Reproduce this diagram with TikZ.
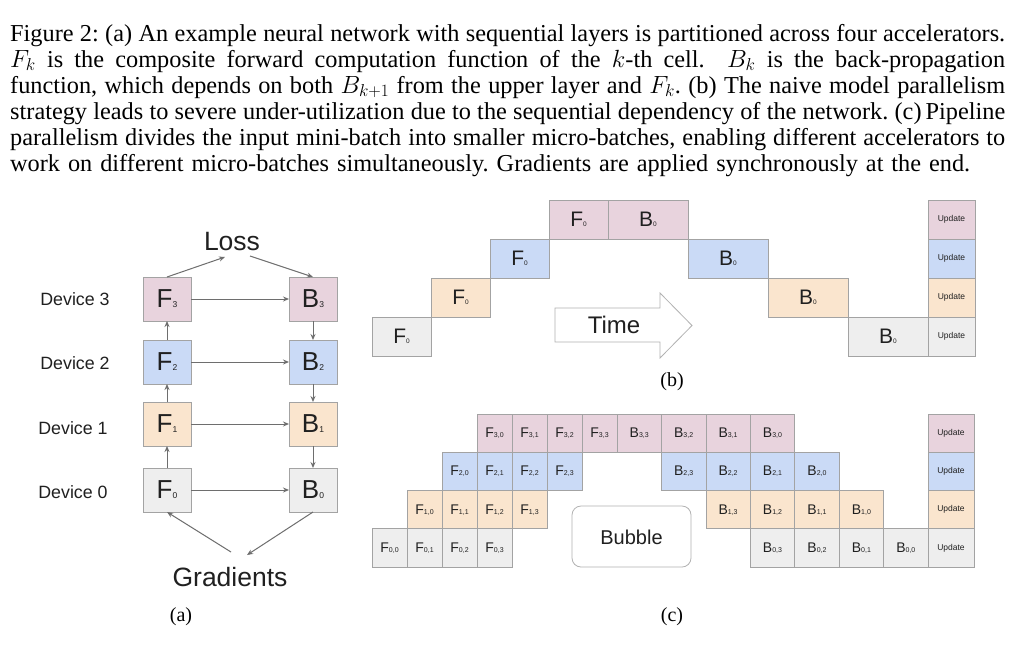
\documentclass[tikz,border=0pt]{standalone}
\usepackage{fontspec}
\setmainfont{Liberation Serif}
\setsansfont{Liberation Sans}
\usetikzlibrary{arrows.meta}
\definecolor{cM}{HTML}{E8D3DD}
\definecolor{cB}{HTML}{CADAF6}
\definecolor{cO}{HTML}{FAE5CE}
\definecolor{cG}{HTML}{EEEEEE}
\definecolor{bord}{HTML}{A3A3A3}
\definecolor{arrg}{HTML}{6E6E6E}
\definecolor{txt}{HTML}{202020}
\newcommand{\labA}[2]{{\fontsize{26}{26}\selectfont #1}{\fontsize{8.5}{8.5}\selectfont #2}}
\newcommand{\labB}[2]{{\fontsize{21}{21}\selectfont #1}{\fontsize{6.5}{6.5}\selectfont #2}}
\newcommand{\labC}[2]{{\fontsize{14}{14}\selectfont #1}{\fontsize{7}{7}\selectfont #2}}
\frenchspacing
\begin{document}
\begin{tikzpicture}[x=1pt,y=-1pt,
  capline/.style={anchor=base west, inner sep=0pt, font=\fontsize{24.3}{24.3}\selectfont},
  abox/.style={draw=bord, line width=0.8pt, minimum width=48pt, minimum height=44pt, inner sep=0pt, outer sep=0pt, text=txt, font=\sffamily},
  cell/.style={draw=bord, line width=0.7pt, inner sep=0pt, outer sep=0pt, anchor=north west, text=txt, font=\sffamily},
  dev/.style={font=\sffamily\fontsize{17.8}{17.8}\selectfont, text=txt},
  big/.style={font=\sffamily\fontsize{26.5}{26.5}\selectfont, text=txt, inner sep=0pt},
  conn/.style={draw=arrg, line width=1pt, -{Stealth[length=6pt,width=5pt]}},
  upd/.style={font=\sffamily\fontsize{8.5}{8.5}\selectfont}]
\useasboundingbox (0,0) rectangle (1016,646);
\fill[white] (0,0) rectangle (1016,646);
% caption
\node[capline] (cap1) at (10,41) {\makebox[995pt][s]{Figure 2: (a) An example neural network with sequential layers is partitioned across four accelerators.}};
\node[capline] (cap2) at (10,67) {\makebox[995pt][s]{$F_k$ is the composite forward computation function of the $k$-th cell. \ $B_k$ is the back-propagation}};
\node[capline] (cap3) at (10,93) {\makebox[995pt][s]{function, which depends on both $B_{k+1}$ from the upper layer and $F_k$. (b) The naive model parallelism}};
\node[capline] (cap4) at (10,119) {\makebox[995pt][s]{strategy leads to severe under-utilization due to the sequential dependency of the network. (c)\,Pipeline}};
\node[capline] (cap5) at (10,145) {\makebox[995pt][s]{parallelism divides the input mini-batch into smaller micro-batches, enabling different accelerators to}};
\node[capline] (cap6) at (10,171) {\makebox[960pt][s]{work on different micro-batches simultaneously. Gradients are applied synchronously at the end.}};
% ---------- (a)
\node[abox, fill=cM] (F3) at (167,299) {\labA{F}{3}};
\node[abox, fill=cM] (B3) at (313,299) {\labA{B}{3}};
\node[abox, fill=cB] (F2) at (167,362) {\labA{F}{2}};
\node[abox, fill=cB] (B2) at (313,362) {\labA{B}{2}};
\node[abox, fill=cO] (F1) at (167,424) {\labA{F}{1}};
\node[abox, fill=cO] (B1) at (313,424) {\labA{B}{1}};
\node[abox, fill=cG] (F0) at (167,490) {\labA{F}{0}};
\node[abox, fill=cG] (B0) at (313,490) {\labA{B}{0}};
\node[dev] (d3) at (75,299) {Device 3};
\node[dev] (d2) at (75,363) {Device 2};
\node[dev] (d1) at (73,428) {Device 1};
\node[dev] (d0) at (73,492) {Device 0};
\node[big] (loss) at (232,242) {Loss};
\node[big] (grad) at (230,577) {Gradients};
\node[font=\fontsize{20}{20}\selectfont] (la) at (181,617) {(a)};
\coordinate (lossL) at (225,257);
\coordinate (lossR) at (250,256);
\coordinate (gradL) at (231,552);
\coordinate (gradR) at (247,555);
\draw[conn] (F3.north) -- (lossL);
\draw[conn] (lossR) -- (B3.north);
\foreach \a/\b in {0/1,1/2,2/3} \draw[conn] (F\a) -- (F\b);
\foreach \a/\b in {3/2,2/1,1/0} \draw[conn] (B\a) -- (B\b);
\foreach \a in {0,1,2,3} \draw[conn] (F\a) -- (B\a);
\draw[conn] (B0.south) -- (gradR);
\draw[conn] (gradL) -- (F0.south);
% ---------- (b)
\node[cell, fill=cG, minimum width=59pt, minimum height=39pt] (bF0) at (372,317) {\labB{F}{0}};
\node[cell, fill=cO, minimum width=59pt, minimum height=39pt] (bF1) at (431,278) {\labB{F}{0}};
\node[cell, fill=cB, minimum width=59pt, minimum height=39pt] (bF2) at (490,239) {\labB{F}{0}};
\node[cell, fill=cM, minimum width=59pt, minimum height=39pt] (bF3) at (549,200) {\labB{F}{0}};
\node[cell, fill=cM, minimum width=80pt, minimum height=39pt] (bB3) at (608,200) {\labB{B}{0}};
\node[cell, fill=cB, minimum width=80pt, minimum height=39pt] (bB2) at (688,239) {\labB{B}{0}};
\node[cell, fill=cO, minimum width=80pt, minimum height=39pt] (bB1) at (768,278) {\labB{B}{0}};
\node[cell, fill=cG, minimum width=80pt, minimum height=39pt] (bB0) at (848,317) {\labB{B}{0}};
\node[cell, upd, fill=cM, minimum width=47pt, minimum height=39pt] (bU3) at (928,200) {Update};
\node[cell, upd, fill=cB, minimum width=47pt, minimum height=39pt] (bU2) at (928,239) {Update};
\node[cell, upd, fill=cO, minimum width=47pt, minimum height=39pt] (bU1) at (928,278) {Update};
\node[cell, upd, fill=cG, minimum width=47pt, minimum height=39pt] (bU0) at (928,317) {Update};
\draw[draw=black!30, fill=white, line width=0.8pt] (555,308) -- (660,308) -- (660,293) -- (692,325.5) -- (660,358) -- (660,342) -- (555,342) -- cycle;
\node[font=\sffamily\fontsize{24}{24}\selectfont, text=txt] (time) at (614,325) {Time};
\node[font=\fontsize{20}{20}\selectfont] (lb) at (672,382) {(b)};
% ---------- (c)
\foreach \dv/\col in {0/cG,1/cO,2/cB,3/cM} {
  \pgfmathsetmacro\yt{414+(3-\dv)*38.25}
  \foreach \j in {0,...,3} {
    \pgfmathsetmacro\xl{372+35*(\dv+\j)}
    \node[cell, fill=\col, minimum width=35pt, minimum height=38.25pt] (cF\dv\j) at (\xl,\yt) {\labC{F}{\dv,\j}};
  }
  \foreach \k in {0,...,3} {
    \pgfmathtruncatemacro\m{3-\k}
    \pgfmathsetmacro\xl{617+44.43*(3-\dv+\k)}
    \node[cell, fill=\col, minimum width=44.43pt, minimum height=38.25pt] (cB\dv\m) at (\xl,\yt) {\labC{B}{\dv,\m}};
  }
  \node[cell, upd, fill=\col, minimum width=46pt, minimum height=38.25pt] (cU\dv) at (928,\yt) {Update};
}
\draw[draw=black!30, fill=white, line width=0.8pt, rounded corners=9pt] (572,506) rectangle (691,567);
\node[font=\sffamily\fontsize{20}{20}\selectfont, text=txt] (bub) at (631.5,537) {Bubble};
\node[font=\fontsize{20}{20}\selectfont] (lc) at (672,617) {(c)};
\end{tikzpicture}
\end{document}
